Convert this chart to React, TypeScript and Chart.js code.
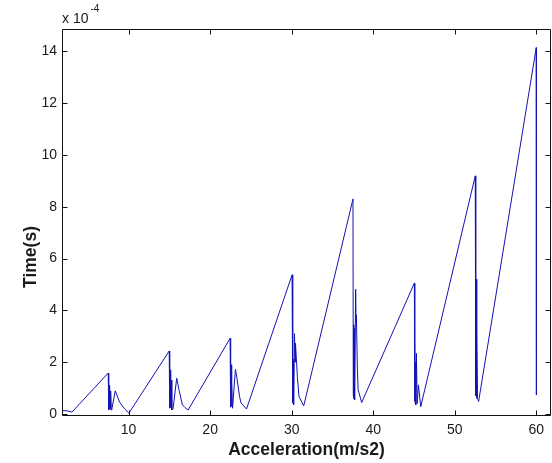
import React, { useEffect, useRef } from 'react';
import { Chart, registerables } from 'chart.js';

Chart.register(...registerables);

// Acceleration (m/s2)
const accel = [
  1.83, 2.44, 3.05,
  7.5, 7.56, 7.6, 7.64, 7.7, 7.75, 7.8, 7.88, 7.95, 8.36, 8.9, 9.55, 10.04,
  14.98, 15.02, 15.06, 15.1, 15.14, 15.18, 15.22, 15.3, 15.45, 15.9, 16.2, 16.6, 16.9, 17.3,
  22.45, 22.5, 22.53, 22.56, 22.6, 22.64, 22.68, 22.75, 23.1, 23.28, 23.6, 23.8, 24.46,
  30.05, 30.1, 30.13, 30.16, 30.2, 30.24, 30.35, 30.42, 30.47, 30.7, 30.9, 31.48,
  37.52, 37.56, 37.6, 37.64, 37.68, 37.72, 37.85, 37.9, 37.94, 38.05, 38.15, 38.59,
  45.05, 45.08, 45.12, 45.16, 45.2, 45.25, 45.3, 45.4, 45.55, 45.83,
  52.52, 52.55, 52.58, 52.61, 52.64, 52.68, 52.72, 52.8, 52.93,
  60.0, 60.02,
];

// Time (s), in units of 1e-4
const timeE4 = [
  0.13, 0.12, 0.07,
  1.58, 0.15, 1.1, 0.2, 0.95, 0.18, 0.89, 0.15, 0.2, 0.89, 0.45, 0.18, 0.03,
  2.43, 0.22, 1.75, 0.3, 1.7, 0.25, 1.3, 0.15, 0.2, 1.38, 0.9, 0.35, 0.25, 0.15,
  2.92, 0.26, 2.08, 0.3, 1.9, 0.35, 1.18, 0.22, 1.72, 1.4, 0.68, 0.42, 0.19,
  5.37, 0.41, 2.2, 0.5, 2.1, 0.35, 3.1, 2.0, 2.73, 1.44, 0.67, 0.31,
  8.3, 0.73, 3.44, 0.6, 3.3, 0.54, 4.81, 3.5, 3.82, 1.89, 0.93, 0.44,
  5.05, 0.48, 2.92, 0.4, 2.0, 0.35, 2.34, 0.4, 1.12, 0.28,
  9.19, 0.8, 5.37, 0.7, 5.2, 0.6, 3.18, 0.6, 0.48,
  14.14, 0.73,
];

const xTicks = [10, 20, 30, 40, 50, 60];
const yTicks = [0, 2, 4, 6, 8, 10, 12, 14];

const FONT = '"Liberation Sans", Arial, Helvetica, sans-serif';

export default function App() {
  const ref = useRef<HTMLCanvasElement>(null);

  useEffect(() => {
    const canvas = ref.current;
    if (!canvas) return;

    const boxPlugin = {
      id: 'matlabBox',
      afterDraw(chart: any) {
        const ctx = chart.ctx as CanvasRenderingContext2D;
        const ca = chart.chartArea;
        const xs = chart.scales.x;
        const ys = chart.scales.y;
        const L = Math.round(ca.left) + 0.5;
        const R = Math.round(ca.right) - 0.5;
        const T = Math.round(ca.top) + 0.5;
        const B = Math.round(ca.bottom) - 0.5;
        ctx.save();
        ctx.strokeStyle = '#111';
        ctx.lineWidth = 1;
        ctx.beginPath();
        ctx.rect(L, T, R - L, B - T);
        const tl = 5;
        xTicks.forEach((v) => {
          const p = Math.round(xs.getPixelForValue(v)) + 0.5;
          ctx.moveTo(p, B);
          ctx.lineTo(p, B - tl);
          ctx.moveTo(p, T);
          ctx.lineTo(p, T + tl);
        });
        yTicks.forEach((v) => {
          const p = Math.round(ys.getPixelForValue(v)) + 0.5;
          ctx.moveTo(L, p);
          ctx.lineTo(L + tl, p);
          ctx.moveTo(R, p);
          ctx.lineTo(R - tl, p);
        });
        ctx.stroke();

        // exponent label
        ctx.fillStyle = '#1a1a1a';
        ctx.textAlign = 'left';
        ctx.textBaseline = 'alphabetic';
        ctx.font = `14px ${FONT}`;
        ctx.fillText('x 10', 62, 22.5);
        ctx.font = `10px ${FONT}`;
        ctx.fillText('-4', 90.5, 12);

        // axis titles
        ctx.font = `bold 17.5px ${FONT}`;
        ctx.textAlign = 'center';
        ctx.fillText('Acceleration(m/s2)', (ca.left + ca.right) / 2, 454.5);
        ctx.translate(36, 257);
        ctx.rotate(-Math.PI / 2);
        ctx.fillText('Time(s)', 0, 0);
        ctx.restore();
      },
    };

    const chart = new Chart(canvas, {
      type: 'line',
      data: {
        datasets: [
          {
            data: accel.map((x, i) => ({ x, y: timeE4[i] })),
            borderColor: '#1212b4',
            borderWidth: 1,
            pointRadius: 0,
            tension: 0,
            fill: false,
          },
        ],
      },
      options: {
        animation: false,
        responsive: false,
        devicePixelRatio: 1,
        layout: { padding: { left: 0, top: 29, right: 1, bottom: 0 } },
        plugins: { legend: { display: false }, tooltip: { enabled: false }, title: { display: false } },
        scales: {
          x: {
            type: 'linear',
            min: 1.83,
            max: 61.81,
            grid: { display: false, drawTicks: false },
            border: { display: false },
            afterFit(s: any) {
              s.height = 47;
            },
            afterBuildTicks(s: any) {
              s.ticks = xTicks.map((v) => ({ value: v }));
            },
            ticks: {
              font: { family: FONT, size: 14 },
              color: '#1a1a1a',
              padding: 6,
              maxRotation: 0,
              autoSkip: false,
            },
          },
          y: {
            type: 'linear',
            min: -0.08,
            max: 14.86,
            grid: { display: false, drawTicks: false },
            border: { display: false },
            afterFit(s: any) {
              s.width = 62;
            },
            afterBuildTicks(s: any) {
              s.ticks = yTicks.map((v) => ({ value: v }));
            },
            ticks: {
              font: { family: FONT, size: 14 },
              color: '#1a1a1a',
              padding: 5,
              autoSkip: false,
            },
          },
        },
      } as any,
      plugins: [boxPlugin],
    });

    return () => chart.destroy();
  }, []);

  return (
    <div style={{ position: 'fixed', left: 0, top: 0, width: 552, height: 463, background: '#fff' }}>
      <canvas ref={ref} width={552} height={463} style={{ display: 'block', width: 552, height: 463 }} />
    </div>
  );
}
